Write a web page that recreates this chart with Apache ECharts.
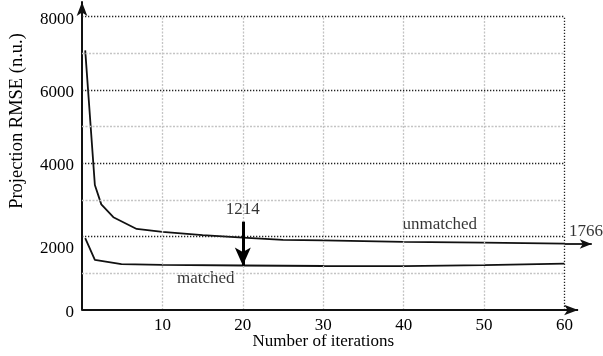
<!DOCTYPE html>
<html>
<head>
<meta charset="utf-8">
<script src="https://cdn.jsdelivr.net/npm/echarts@6/dist/echarts.min.js"></script>
<style>
html,body{margin:0;padding:0;background:#fff;}
#c{width:603px;height:356px;}
</style>
</head>
<body>
<div id="c"></div>
<script>
// ---- data ----
const matched = [[0.4,1960],[1.6,1370],[4.9,1250],[10,1228],[20,1214],[30,1200],[40,1195],[50,1222],[60,1265]];
const unmatched = [[0.4,7080],[1.6,3410],[2.4,2880],[3.9,2530],[6.8,2210],[10,2130],[15,2040],[20,1975],[25,1915],[30,1900],[40,1860],[50,1835],[60,1810]];
const xTicks = [10,20,30,40,50,60];
const yTicks = [0,2000,4000,6000,8000];
const majorY = [2000,4000,6000,8000];
const minorY = [1000,3000,5000,7000];
const minorX = [10,20,30,40,50];
const borderX = 60;
const xAxisEnd = 61.7;
const arrow1214 = {x:20, from:2409, to:1214};
const arrow1766 = {y:1800, from:60, to:63.4};
const labels = [
  {x:15.4, y:845, text:'matched', align:'center'},
  {x:44.5, y:2318, text:'unmatched', align:'center'},
  {x:20, y:2727, text:'1214', align:'center'},
  {x:64.8, y:2135, text:'1766', align:'right'}
];
const xName = 'Number of iterations';
const yName = 'Projection RMSE (n.u.)';

const FONT = 'Liberation Serif';
const TXT = '#000';
const majorStyle = {color:'#222', width:1.3, type:[1.3,1.7]};
const minorStyle = {color:'#c4c4c4', width:1.3, type:[2,1.5]};

const gridLines = [];
minorY.forEach(v => gridLines.push([{coord:[0,v], lineStyle:minorStyle},{coord:[borderX,v]}]));
minorX.forEach(v => gridLines.push([{coord:[v,0], lineStyle:minorStyle},{coord:[v,8000]}]));
majorY.forEach(v => gridLines.push([{coord:[0,v], lineStyle:majorStyle},{coord:[borderX,v]}]));
gridLines.push([{coord:[borderX,0], lineStyle:majorStyle},{coord:[borderX,8000]}]);

const chart = echarts.init(document.getElementById('c'), null, {renderer:'canvas'});
chart.setOption({
  animation:false,
  backgroundColor:'#fff',
  grid:{left:82, right:6.4, top:2, bottom:46, containLabel:false, outerBoundsMode:'none'},
  xAxis:{
    type:'value', min:0, max:64, interval:10,
    axisLine:{show:false},
    axisTick:{show:false},
    splitLine:{show:false},
    axisLabel:{
      fontFamily:FONT, fontSize:17, color:TXT, margin:7,
      formatter: v => xTicks.includes(v) ? String(v) : ''
    },
    name:xName, nameLocation:'middle', nameGap:23, nameMoveOverlap:false,
    nameTextStyle:{fontFamily:FONT, fontSize:17, color:TXT, padding:[0,32,0,0]}
  },
  yAxis:{
    type:'value', min:0, max:8400, interval:2000,
    axisLine:{show:true, lineStyle:{color:'#111', width:2}, symbol:['none','arrow'], symbolSize:[8,14]},
    axisTick:{show:false},
    splitLine:{show:false},
    axisLabel:{
      fontFamily:FONT, fontSize:17, color:TXT, margin:8,
      formatter: v => v === 2000 ? '{low|2000}' : (yTicks.includes(v) ? '{n|' + v + '}' : ''),
      rich:{
        low:{fontFamily:FONT, fontSize:17, color:TXT, padding:[24,0,0,0]},
        n:{fontFamily:FONT, fontSize:17, color:TXT, padding:[5,0,0,0]}
      }
    },
    name:yName, nameLocation:'middle', nameGap:55, nameMoveOverlap:false,
    nameTextStyle:{fontFamily:FONT, fontSize:18.5, color:TXT, padding:[0,0,0,70]}
  },
  series:[
    {
      type:'line', data:[], silent:true, clip:false,
      markLine:{silent:true, symbol:'none', label:{show:false}, data:gridLines, animation:false}
    },
    {
      type:'line', data:[], silent:true, clip:false,
      markLine:{
        silent:true, symbol:['none','arrow'], symbolSize:[8,14], label:{show:false},
        lineStyle:{color:'#111', width:2, type:'solid'},
        data:[[{coord:[0,0]},{coord:[xAxisEnd,0]}]]
      }
    },
    {
      type:'line', data:matched, symbol:'none', clip:false,
      lineStyle:{color:'#111', width:1.8},
      markLine:{
        silent:true, symbol:['none','arrow'], symbolSize:[12,18], label:{show:false},
        lineStyle:{color:'#000', width:3, type:'solid'},
        data:[[{coord:[arrow1214.x, arrow1214.from]},{coord:[arrow1214.x, arrow1214.to]}]]
      }
    },
    {
      type:'line', data:unmatched, symbol:'none', clip:false,
      lineStyle:{color:'#111', width:1.8},
      markLine:{
        silent:true, symbol:['none','arrow'], symbolSize:[7,12], label:{show:false},
        lineStyle:{color:'#111', width:1.8, type:'solid'},
        data:[[{coord:[arrow1766.from, arrow1766.y]},{coord:[arrow1766.to, arrow1766.y]}]]
      }
    },
    {
      type:'scatter', symbolSize:0, silent:true, clip:false,
      data: labels.map(l => ({value:[l.x, l.y], name:l.text, label:{align:l.align}})),
      label:{show:true, position:'inside', formatter: p => p.name, fontFamily:FONT, fontSize:17, color:TXT, textBorderWidth:0}
    }
  ]
});
</script>
</body>
</html>
